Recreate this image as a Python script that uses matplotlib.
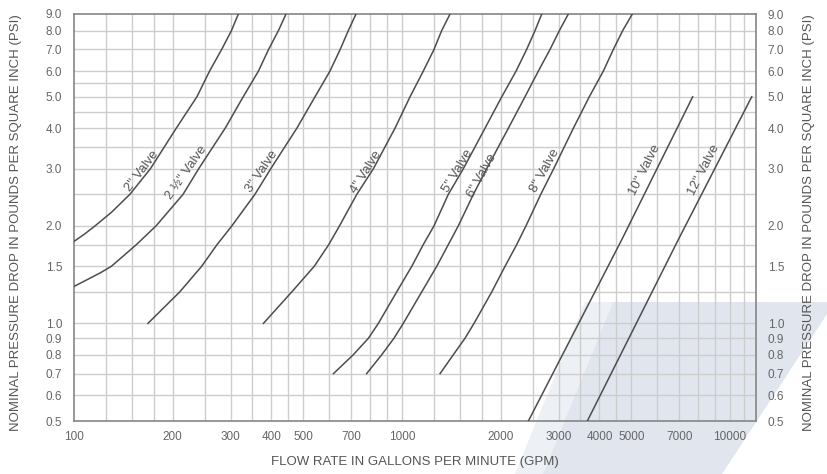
import matplotlib.pyplot as plt
from matplotlib.patches import Polygon
from matplotlib.ticker import NullLocator

# flow (GPM) vs pressure drop (PSI)
flow_2 = [100, 108, 116, 130, 148, 171, 205, 237, 259, 282, 302, 317]
psi_2 = [1.79, 1.89, 2.0, 2.2, 2.5, 3.0, 4.0, 5.0, 6.0, 7.0, 8.0, 9.0]
flow_25 = [100, 120, 130, 155, 178, 215, 240, 289, 328, 365, 392, 420, 443]
psi_25 = [1.30, 1.43, 1.5, 1.75, 2.0, 2.5, 3.0, 4.0, 5.0, 6.0, 7.0, 8.0, 9.0]
flow_3 = [168, 210, 245, 273, 303, 356, 398, 478, 543, 603, 648, 686, 724]
psi_3 = [1.0, 1.25, 1.5, 1.75, 2.0, 2.5, 3.0, 4.0, 5.0, 6.0, 7.0, 8.0, 9.0]
flow_4 = [378, 461, 540, 598, 645, 728, 818, 952, 1058, 1161, 1252, 1321, 1401]
psi_4 = [1.0, 1.25, 1.5, 1.75, 2.0, 2.5, 3.0, 4.0, 5.0, 6.0, 7.0, 8.0, 9.0]
flow_5 = [618, 710, 790, 847, 963, 1071, 1161, 1252, 1384, 1538, 1791, 2014,
          2227, 2399, 2544, 2667]
psi_5 = [0.7, 0.8, 0.9, 1.0, 1.25, 1.5, 1.75, 2.0, 2.5, 3.0, 4.0, 5.0,
         6.0, 7.0, 8.0, 9.0]
flow_6 = [780, 867, 945, 1009, 1148, 1276, 1384, 1485, 1650, 1812, 2110, 2371,
          2604, 2827, 3018, 3214]
psi_6 = [0.7, 0.8, 0.9, 1.0, 1.25, 1.5, 1.75, 2.0, 2.5, 3.0, 4.0, 5.0,
         6.0, 7.0, 8.0, 9.0]
flow_8 = [1306, 1433, 1556, 1658, 1877, 2061, 2237, 2388, 2648, 2900, 3330, 3724,
          4109, 4409, 4708, 5036]
psi_8 = [0.7, 0.8, 0.9, 1.0, 1.25, 1.5, 1.75, 2.0, 2.5, 3.0, 4.0, 5.0,
         6.0, 7.0, 8.0, 9.0]
flow_10 = [2428, 4674, 7695]
psi_10 = [0.5, 1.81, 5.0]
flow_12 = [3673, 6950, 11645]
psi_12 = [0.5, 1.81, 5.0]

curves = [(flow_2, psi_2), (flow_25, psi_25), (flow_3, psi_3), (flow_4, psi_4),
          (flow_5, psi_5), (flow_6, psi_6), (flow_8, psi_8), (flow_10, psi_10),
          (flow_12, psi_12)]

valve_labels = ['2" Valve', '2 ½" Valve', '3" Valve', '4" Valve', '5" Valve',
                '6" Valve', '8" Valve', '10" Valve', '12" Valve']
label_x = [161, 221, 373, 775, 1474, 1750, 2729, 5507, 8332]
label_y = [2.94, 2.91, 2.95, 2.93, 2.95, 2.86, 2.95, 2.98, 2.98]
label_rot = [53, 55, 56, 58, 59, 61, 61, 63, 63]

x_ticks = [100, 200, 300, 400, 500, 700, 1000, 2000, 3000, 4000, 5000, 7000, 10000]
y_ticks = [0.5, 0.6, 0.7, 0.8, 0.9, 1.0, 1.5, 2.0, 3.0, 4.0, 5.0, 6.0, 7.0, 8.0, 9.0]

x_grid = [125, 150, 175, 200, 250, 300, 350, 400, 450, 500, 600, 700, 800, 900,
          1000, 1250, 1500, 1750, 2000, 2500, 3000, 3500, 4000, 4500, 5000,
          6000, 7000, 8000, 9000, 10000, 11000]
y_grid = [0.6, 0.7, 0.8, 0.9, 1.0, 1.25, 1.5, 1.75, 2.0, 2.5, 3.0, 3.5, 4.0,
          4.5, 5.0, 5.5, 6.0, 7.0, 8.0]

fnt = ['Liberation Sans', 'DejaVu Sans']
txt_col = '#555555'

fig = plt.figure(figsize=(8.27, 4.74), dpi=100)
W, H = 827, 474

# faint watermark shape in the lower right
fig.patches.append(Polygon([(585/W, 1-302/H), (613/W, 1-302/H), (543/W, 0), (515/W, 0)],
                           closed=True, transform=fig.transFigure,
                           facecolor='#edf0f5', edgecolor='none', zorder=-2))
fig.patches.append(Polygon([(613/W, 1-302/H), (835/W, 1-302/H), (722/W, 0), (543/W, 0)],
                           closed=True, transform=fig.transFigure,
                           facecolor='#e0e5ee', edgecolor='none', zorder=-2))

ax = fig.add_axes([74/W, 1-421/H, (756-74)/W, (421-14)/H])
ax.set_facecolor('none')
ax.set_xscale('log')
ax.set_yscale('log')
ax.set_xlim(100, 12000)
ax.set_ylim(0.5, 9.0)

for gx in x_grid:
    ax.axvline(gx, color='#cdcdcd', lw=1.0, zorder=1)
for gy in y_grid:
    ax.axhline(gy, color='#cdcdcd', lw=1.0, zorder=1)

for (fx, py) in curves:
    ax.plot(fx, py, color='#4d4d4d', lw=1.1, zorder=3)

for lab, lx, ly, rot in zip(valve_labels, label_x, label_y, label_rot):
    ax.text(lx, ly, lab, rotation=rot, ha='center', va='center', fontsize=9.5,
            color=txt_col, family=fnt, zorder=4, rotation_mode='anchor')

ax.set_xticks(x_ticks)
ax.set_xticklabels([str(t) for t in x_ticks])
ax.set_yticks(y_ticks)
ax.set_yticklabels(['%.1f' % t for t in y_ticks])
ax.xaxis.set_minor_locator(NullLocator())
ax.yaxis.set_minor_locator(NullLocator())
ax.tick_params(length=0, labelsize=8.5, labelcolor='#666666')
ax.tick_params(axis='y', pad=8.5)
ax.tick_params(axis='x', pad=7)
for lbl in ax.get_xticklabels() + ax.get_yticklabels():
    lbl.set_family(fnt)
for sp in ax.spines.values():
    sp.set_color('#858585')
    sp.set_linewidth(1.2)

ax2 = ax.twinx()
ax2.set_yscale('log')
ax2.set_ylim(0.5, 9.0)
ax2.set_yticks(y_ticks)
ax2.set_yticklabels(['%.1f' % t for t in y_ticks])
ax2.yaxis.set_minor_locator(NullLocator())
ax2.tick_params(length=0, labelsize=8.5, labelcolor='#666666', pad=8.5)
for lbl in ax2.get_yticklabels():
    lbl.set_family(fnt)
for sp in ax2.spines.values():
    sp.set_visible(False)

ylab = 'NOMINAL PRESSURE DROP IN POUNDS PER SQUARE INCH (PSI)'
fig.text(16/W, 1-223/H, ylab, rotation=90, ha='center', va='center',
         fontsize=9.5, color=txt_col, family=fnt)
fig.text(809/W, 1-223/H, ylab, rotation=90, ha='center', va='center',
         fontsize=9.5, color=txt_col, family=fnt)
fig.text(415/W, 1-462/H, 'FLOW RATE IN GALLONS PER MINUTE (GPM)', ha='center',
         va='center', fontsize=9.5, color=txt_col, family=fnt)

fig.savefig('out.png', dpi=100)
